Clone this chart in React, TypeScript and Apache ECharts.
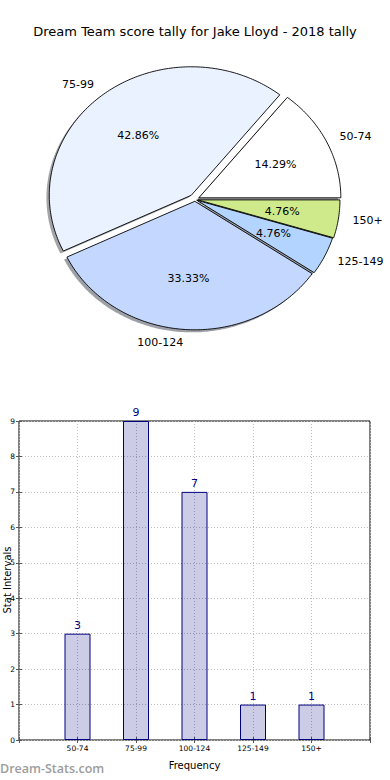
import React, { useEffect, useRef } from "react";
import * as echarts from "echarts";

const titleText = "Dream Team score tally for Jake Lloyd - 2018 tally";
const yAxisTitle = "Stat Intervals";
const xAxisTitle = "Frequency";
const categories = ["50-74", "75-99", "100-124", "125-149", "150+"];
const counts = [3, 9, 7, 1, 1];
const sliceColors = ["#FFFFFF", "#EAF2FF", "#C4D8FF", "#B2D4FF", "#CEEA8A"];
const explode = [0.03, 0.042, 0.014, 0.014, 0.021];
const xPositions = [1, 2, 3, 4, 5];

const FONT = "DejaVu Sans";
const PIE = { cx: 195, cy: 199.5, rx: 142, ry: 128.5 };

function shadowColor(hex: string) {
  const r = parseInt(hex.slice(1, 3), 16);
  const g = parseInt(hex.slice(3, 5), 16);
  const b = parseInt(hex.slice(5, 7), 16);
  return `rgba(${Math.round(r * 0.3)},${Math.round(g * 0.3)},${Math.round(b * 0.3)},0.5)`;
}

export default function App() {
  const ref = useRef<HTMLDivElement>(null);
  useEffect(() => {
    if (!ref.current) return;
    const chart = echarts.init(ref.current, null, { renderer: "svg" });
    const total = counts.reduce((a, b) => a + b, 0);

    const renderSlice = (params: any, api: any) => {
      const i = params.dataIndex;
      const v = api.value(0) as number;
      const before = counts.slice(0, i).reduce((a, b) => a + b, 0);
      const a1 = (before / total) * Math.PI * 2;
      const a2 = ((before + v) / total) * Math.PI * 2;
      const mid = (a1 + a2) / 2;
      const e = explode[i];
      const ox = PIE.cx + e * PIE.rx * Math.cos(mid);
      const oy = PIE.cy - e * PIE.ry * Math.sin(mid);
      const pts: number[][] = [[ox, oy]];
      const n = Math.max(4, Math.ceil(((a2 - a1) * 180) / Math.PI));
      for (let k = 0; k <= n; k++) {
        const a = a1 + ((a2 - a1) * k) / n;
        pts.push([ox + PIE.rx * Math.cos(a), oy - PIE.ry * Math.sin(a)]);
      }
      const sdx = -0.02 * PIE.rx;
      const sdy = 0.02 * PIE.ry;
      const spts = pts.map((p) => [p[0] + sdx, p[1] + sdy]);
      const cosM = Math.cos(mid);
      const sinM = Math.sin(mid);
      const lx = ox + 1.1 * PIE.rx * cosM;
      const ly = oy - 1.1 * PIE.ry * sinM;
      const px = ox + 0.6 * PIE.rx * cosM;
      const py = oy - 0.6 * PIE.ry * sinM;
      return {
        type: "group",
        children: [
          {
            type: "polygon",
            shape: { points: spts },
            style: { fill: shadowColor(sliceColors[i]), stroke: "none" },
            z2: 0,
          },
          {
            type: "polygon",
            shape: { points: pts },
            style: { fill: sliceColors[i], stroke: "#000", lineWidth: 0.9, lineJoin: "miter" },
            z2: 10,
          },
          {
            type: "text",
            style: {
              text: categories[i],
              x: lx,
              y: ly,
              align: cosM > 0 ? "left" : "right",
              verticalAlign: "middle",
              fontSize: 11,
              fontFamily: FONT,
              fill: "#000",
            },
            z2: 20,
          },
          {
            type: "text",
            style: {
              text: ((v / total) * 100).toFixed(2) + "%",
              x: px,
              y: py,
              align: "center",
              verticalAlign: "middle",
              fontSize: 11,
              fontFamily: FONT,
              fill: "#000",
            },
            z2: 20,
          },
        ],
      };
    };

    const gridLine = { show: true, lineStyle: { color: "#bdbdbd", type: [1, 2], width: 1 } };

    chart.setOption({
      animation: false,
      backgroundColor: "#fff",
      textStyle: { fontFamily: FONT },
      title: {
        text: titleText,
        left: "center",
        top: 20,
        textStyle: { fontSize: 13, fontWeight: "normal", color: "#000", fontFamily: FONT },
      },
      grid: {
        left: 19,
        top: 421,
        width: 351,
        height: 319,
        outerBoundsMode: "none",
        containLabel: false,
        show: true,
        borderColor: "#000",
        borderWidth: 1,
        backgroundColor: "transparent",
      },
      xAxis: [
        {
          type: "value",
          min: 0,
          max: 6,
          interval: 1,
          name: xAxisTitle,
          nameLocation: "middle",
          nameGap: 20,
          nameTextStyle: { fontSize: 10, color: "#000", fontFamily: FONT },
          axisLine: { show: false },
          axisTick: { show: true, inside: true, length: 3, lineStyle: { color: "#555" } },
          axisLabel: {
            fontSize: 7.5,
            color: "#000",
            margin: 4,
            fontFamily: FONT,
            formatter: (val: number) => {
              const idx = xPositions.indexOf(val);
              return idx >= 0 ? categories[idx] : "";
            },
          },
          splitLine: gridLine,
        },
        {
          type: "value",
          position: "top",
          min: 0,
          max: 6,
          interval: 1,
          axisLine: { show: false },
          axisTick: { show: true, inside: true, length: 3, lineStyle: { color: "#555" } },
          axisLabel: { show: false },
          splitLine: { show: false },
        },
      ],
      yAxis: [
        {
          type: "value",
          min: 0,
          max: 9,
          interval: 1,
          axisLine: { show: false },
          axisTick: { show: true, inside: true, length: 3, lineStyle: { color: "#555" } },
          axisLabel: { fontSize: 7.5, color: "#000", margin: 4, fontFamily: FONT },
          splitLine: gridLine,
        },
        {
          type: "value",
          position: "right",
          min: 0,
          max: 9,
          interval: 1,
          axisLine: { show: false },
          axisTick: { show: true, inside: true, length: 3, lineStyle: { color: "#555" } },
          axisLabel: { show: false },
          splitLine: { show: false },
        },
      ],
      series: [
        {
          type: "custom",
          coordinateSystem: "none",
          renderItem: renderSlice,
          data: counts.map((c) => [c]),
        },
        {
          type: "bar",
          xAxisIndex: 0,
          yAxisIndex: 0,
          barWidth: 26,
          data: counts.map((c, i) => [xPositions[i], c]),
          itemStyle: { color: "rgba(0,0,128,0.2)", borderColor: "#000080", borderWidth: 1 },
          label: {
            show: true,
            position: "top",
            distance: 3,
            color: "#000080",
            fontSize: 11,
            fontFamily: FONT,
          },
        },
      ],
      graphic: [
        {
          type: "text",
          x: 7,
          y: 580,
          rotation: Math.PI / 2,
          style: {
            text: yAxisTitle,
            align: "center",
            verticalAlign: "middle",
            fontSize: 10,
            fontFamily: FONT,
            fill: "#000",
          },
        },
        {
          type: "text",
          left: 0,
          top: 762,
          style: {
            text: "Dream-Stats.com",
            fontSize: 12.5,
            fontWeight: 600,
            fontFamily: "Open Sans",
            fill: "#9c9c9c",
          },
        },
      ],
    });
    return () => chart.dispose();
  }, []);
  return (
    <div
      ref={ref}
      style={{ position: "fixed", left: 0, top: 0, width: 390, height: 780, background: "#fff" }}
    />
  );
}
